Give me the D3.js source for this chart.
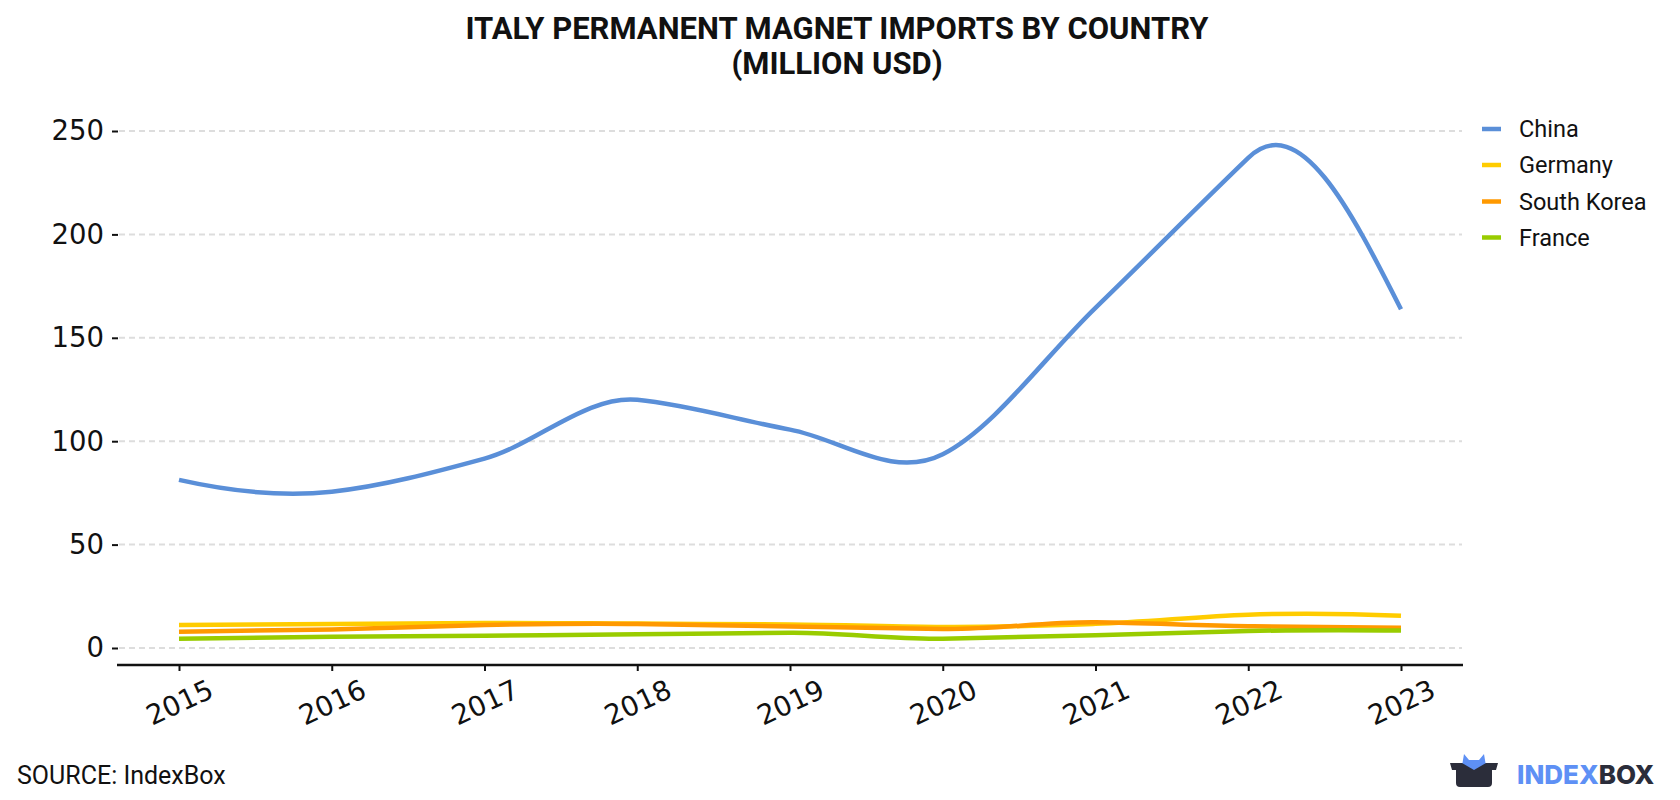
<!DOCTYPE html>
<html>
<head>
<meta charset="utf-8">
<script src="https://cdn.jsdelivr.net/npm/d3@7"></script>
<style>
  html, body { margin: 0; padding: 0; background: #fff; }
  svg { display: block; }
</style>
</head>
<body>
<svg id="chart" width="1680" height="800"></svg>
<script>
// ---- data ----
const years = [2015, 2016, 2017, 2018, 2019, 2020, 2021, 2022, 2023];
const seriesNames = ["China", "Germany", "South Korea", "France"];
const china      = [81.3, 75.6, 91.6, 120.0, 105.6, 93.7, 164.5, 237.0, 163.8];
const germany    = [11.1, 11.6, 12.1, 11.8, 11.4, 10.2, 11.7, 16.1, 15.6];
const southKorea = [7.9, 9.0, 11.1, 11.6, 10.4, 9.2, 12.4, 10.5, 9.8];
const france     = [4.5, 5.4, 5.9, 6.6, 7.4, 4.5, 6.2, 8.2, 8.5];
const yTicks = [0, 50, 100, 150, 200, 250];
const colors = ["#5a8fd8", "#ffcc00", "#ff9900", "#99cc00"];

const allSeries = [china, germany, southKorea, france];

// Akima interpolating curve (slopes as in Akima's 1970 method)
function curveAkima(context) {
  return {
    areaStart() {}, areaEnd() {},
    lineStart() { this._xs = []; this._ys = []; },
    point(x, y) { this._xs.push(+x); this._ys.push(+y); },
    lineEnd() {
      const X = this._xs, Y = this._ys, n = X.length;
      if (n === 0) return;
      context.moveTo(X[0], Y[0]);
      if (n < 3) { for (let i = 1; i < n; i++) context.lineTo(X[i], Y[i]); return; }
      const m = [];
      for (let i = 0; i < n - 1; i++) m.push((Y[i + 1] - Y[i]) / (X[i + 1] - X[i]));
      const mm = 2 * m[0] - m[1], mmm = 2 * mm - m[0];
      const mp = 2 * m[n - 2] - m[n - 3], mpp = 2 * mp - m[n - 2];
      const m1 = [mmm, mm, ...m, mp, mpp];
      const dm = [];
      for (let k = 0; k < m1.length - 1; k++) dm.push(Math.abs(m1[k + 1] - m1[k]));
      const t = [];
      let maxf = 0;
      const f1 = [], f2 = [];
      for (let i = 0; i < n; i++) {
        f1.push(dm[i + 2]); f2.push(dm[i]);
        maxf = Math.max(maxf, dm[i + 2] + dm[i]);
      }
      for (let i = 0; i < n; i++) {
        const f12 = f1[i] + f2[i];
        if (f12 > 1e-9 * maxf) t.push((f1[i] * m1[i + 1] + f2[i] * m1[i + 2]) / f12);
        else t.push(0.5 * (m1[i + 3] + m1[i]));
      }
      for (let i = 0; i < n - 1; i++) {
        const h = X[i + 1] - X[i];
        context.bezierCurveTo(X[i] + h / 3, Y[i] + t[i] * h / 3,
                              X[i + 1] - h / 3, Y[i + 1] - t[i + 1] * h / 3,
                              X[i + 1], Y[i + 1]);
      }
    }
  };
}

const svg = d3.select("#chart");

const x = d3.scaleLinear().domain([2015, 2023]).range([179, 1401]);
const y = d3.scaleLinear().domain([0, 250]).range([648, 131]);

// title
const title = svg.append("text")
  .attr("x", 837).attr("y", 39)
  .attr("text-anchor", "middle")
  .style("font-family", "Roboto")
  .style("font-weight", "700")
  .style("font-size", "31px")
  .style("fill", "#111");
title.append("tspan").attr("x", 837).attr("dy", 0).text("ITALY PERMANENT MAGNET IMPORTS BY COUNTRY");
title.append("tspan").attr("x", 837).attr("dy", 35).text("(MILLION USD)");

// gridlines
svg.append("g").selectAll("line").data(yTicks).join("line")
  .attr("x1", 119).attr("x2", 1462)
  .attr("y1", d => y(d)).attr("y2", d => y(d))
  .attr("stroke", "#dddddd").attr("stroke-width", 2)
  .attr("stroke-dasharray", "6,4");

// y axis (ticks + labels, no domain line)
const yAxis = d3.axisLeft(y).tickValues(yTicks).tickSize(6).tickPadding(8);
const yg = svg.append("g").attr("transform", "translate(118,0)").call(yAxis);
yg.select(".domain").remove();
yg.selectAll(".tick line").attr("stroke", "#111").attr("stroke-width", 2);
yg.selectAll(".tick text")
  .style("font-family", "DejaVu Sans")
  .style("font-size", "27.5px")
  .style("fill", "#111");

// x axis
const xAxis = d3.axisBottom(x).tickValues(years).tickFormat(d3.format("d")).tickSize(6).tickSizeOuter(0);
const xg = svg.append("g").attr("transform", "translate(0,665)").call(xAxis);
xg.select(".domain").remove();
svg.append("line").attr("x1", 117).attr("x2", 1463).attr("y1", 665).attr("y2", 665)
  .attr("stroke", "#111").attr("stroke-width", 2.5);
xg.selectAll(".tick line").attr("stroke", "#111").attr("stroke-width", 2);
xg.selectAll(".tick text")
  .attr("y", 0).attr("dy", 0)
  .attr("transform", "translate(0,37) rotate(-25)")
  .attr("text-anchor", "middle")
  .attr("dominant-baseline", "central")
  .style("font-family", "DejaVu Sans")
  .style("font-size", "27.5px")
  .style("fill", "#111");

// lines
const line = d3.line()
  .x((d, i) => x(years[i]))
  .y(d => y(d))
  .curve(curveAkima);

svg.append("g").selectAll("path").data(allSeries).join("path")
  .attr("d", d => line(d))
  .attr("fill", "none")
  .attr("stroke", (d, i) => colors[i])
  .attr("stroke-width", 4.5)
  .attr("stroke-linejoin", "round");

// legend
const legendY = [129, 165, 201.5, 237.5];
const lg = svg.append("g").selectAll("g").data(seriesNames).join("g")
  .attr("transform", (d, i) => `translate(0,${legendY[i]})`);
lg.append("line").attr("x1", 1482).attr("x2", 1501).attr("y1", 0).attr("y2", 0)
  .attr("stroke", (d, i) => colors[i]).attr("stroke-width", 4.5);
lg.append("text").attr("x", 1519).attr("y", 0).attr("dominant-baseline", "central")
  .style("font-family", "Roboto").style("font-size", "23.5px").style("fill", "#111")
  .text(d => d);

// source
svg.append("text").attr("x", 17).attr("y", 784)
  .style("font-family", "Roboto").style("font-size", "25px").style("fill", "#111")
  .text("SOURCE: IndexBox");

// logo
const logo = svg.append("g");
logo.append("path")
  .attr("d", "M1462,766 L1464,754 L1469,760 L1474,760 L1479,760 L1484,754 L1486,766 Z")
  .attr("fill", "#5e90f5");
logo.append("path")
  .attr("d", "M1450,763 L1498,763 L1496,770 L1492,770 L1492,783 Q1492,787 1488,787 L1460,787 Q1456,787 1456,783 L1456,770 L1452,770 Z")
  .attr("fill", "#2b2d3a");
logo.append("path")
  .attr("d", "M1462,763 L1474,770 L1486,763 Z")
  .attr("fill", "#5e90f5");
const lt = logo.append("text").attr("x", 1517).attr("y", 784)
  .style("font-family", "Inter").style("font-weight", "800").style("font-size", "26px");
lt.append("tspan").attr("fill", "#5e90f5").text("INDEX");
lt.append("tspan").attr("fill", "#2b2d3a").text("BOX");
</script>
</body>
</html>
